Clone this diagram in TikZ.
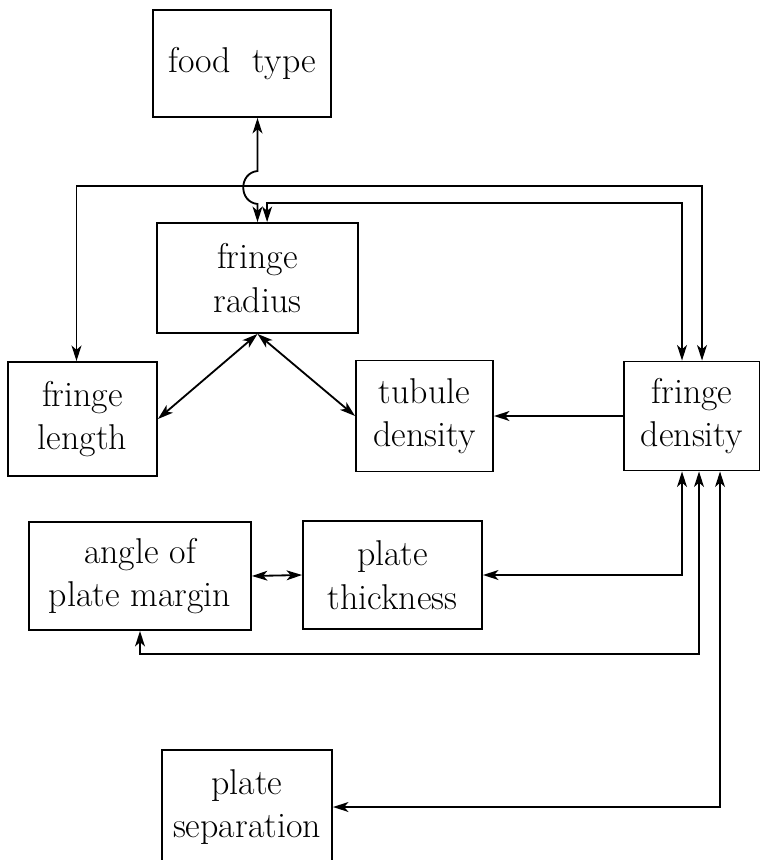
\documentclass[tikz,border=0pt]{standalone}
\usepackage{tikz}
\usetikzlibrary{arrows.meta}

\begin{document}
\begin{tikzpicture}[x=0.025cm,y=-0.025cm]
  \tikzset {
    box/.style={
      rectangle,
      draw=black,
      line width=1.3pt,
      inner sep=0pt,
      align=center,
      font=\fontsize{25.5}{31}\selectfont
    },
    link/.style={
      line width=1.3pt,
      >={Stealth[length=11pt,width=7pt,inset=3pt]}
    }
  }
  \useasboundingbox (0,0) rectangle (759,860);

  \node[box, minimum width=4.45cm, minimum height=2.675cm] (food) at (242,63.5) {food\ \ type};
  \node[box, minimum width=5.025cm, minimum height=2.75cm] (radius) at (257.5,278) {fringe\\radius};
  \node[box, minimum width=3.725cm, minimum height=2.85cm] (length) at (82.5,419) {fringe\\length};
  \node[box, minimum width=3.425cm, minimum height=2.775cm] (tubule) at (424.5,416) {tubule\\density};
  \node[box, minimum width=3.4cm, minimum height=2.725cm] (fdensity) at (692,416) {fringe\\density};
  \node[box, minimum width=5.55cm, minimum height=2.7cm] (angle) at (140,576) {angle of\\plate margin};
  \node[box, minimum width=4.475cm, minimum height=2.7cm] (thick) at (392.5,575) {plate\\thickness};
  \node[box, minimum width=4.25cm, minimum height=2.85cm] (sep) at (247,807) {plate\\separation};

  % hop where the food type link crosses the long top line
  \coordinate (hopin) at (257.5,171);
  \coordinate (hopout) at (257.5,204);

  \draw[link,<->] (food.south -| radius.north) -- (hopin)
    .. controls +(-19,2) and +(-19,-2) .. (hopout) -- (radius.north);
  \draw[link,<->] ([xshift=-0.15cm]length.north) -- ++(0,-175) -| ([xshift=0.25cm]fdensity.north);
  \draw[link,<->] ([xshift=0.24cm]radius.north) -- ++(0,-19) -| ([xshift=-0.25cm]fdensity.north);

  \draw[link,<->] (radius.south) -- (length.east);
  \draw[link,<->] (radius.south) -- (tubule.west);
  \draw[link,->] (fdensity.west) -- (tubule.east);

  \draw[link,<->] (angle.east) -- (thick.west);
  \draw[link,<->] (thick.east) -| ([xshift=-0.25cm]fdensity.south);
  \draw[link,<->] (angle.south) -- ++(0,23) -| ([xshift=0.175cm]fdensity.south);
  \draw[link,<->] (sep.east) -| ([xshift=0.7cm]fdensity.south);

\end{tikzpicture}
\end{document}
